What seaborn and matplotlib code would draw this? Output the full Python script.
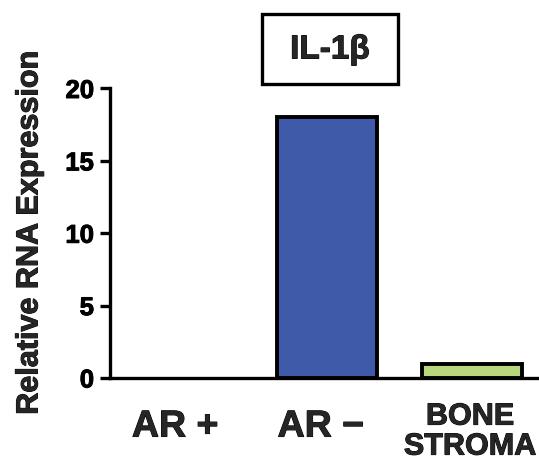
import matplotlib
matplotlib.use("Agg")
import matplotlib.pyplot as plt
import matplotlib.patheffects as pe
from matplotlib.patches import Rectangle
from matplotlib.transforms import ScaledTranslation
import seaborn as sns

# Data
categories = ["AR +", "AR \u2212", "BONE\nSTROMA"]
values = [0.0, 18.0, 1.0]
bar_colors = ["#FFFFFF", "#3F5AA8", "#B8D67C"]
y_ticks = [0, 5, 10, 15, 20]
title = "IL-1\u03b2"
y_label = "Relative RNA Expression"

sns.set_theme(style="ticks")
plt.rcParams["font.family"] = ["Liberation Sans", "DejaVu Sans"]
plt.rcParams["font.weight"] = "bold"

heavy = [pe.withStroke(linewidth=0.7, foreground="black")]

W, H = 539, 461
fig = plt.figure(figsize=(W / 100, H / 100), dpi=100)
ax = fig.add_axes([110 / W, (H - 378) / H, 1 - 110 / W, (378 - 88.5) / H])

sns.barplot(x=categories, y=values, hue=categories, palette=bar_colors,
            legend=False, width=0.69, edgecolor="black", linewidth=2.8,
            saturation=1, ax=ax)

# a zero-height bar leaves no outline
for patch, v in zip(ax.patches, values):
    if v == 0:
        patch.set_linewidth(0)

ax.set_xlim(-0.497, 2.462)
ax.set_ylim(0, 20)
ax.set_yticks(y_ticks)
ax.set_yticklabels([str(t) for t in y_ticks], fontsize=18.5, fontweight="bold")
for lbl in ax.get_yticklabels():
    lbl.set_path_effects(heavy)

for side in ("top", "right"):
    ax.spines[side].set_visible(False)
for side in ("left", "bottom"):
    ax.spines[side].set_linewidth(2.4)
    ax.spines[side].set_color("black")
ax.spines["bottom"].set_zorder(5)

ax.tick_params(axis="y", direction="out", length=7.5, width=2.4, pad=4, colors="black")
ax.tick_params(axis="x", length=0, pad=22)

# per-label size, line spacing and small offsets (points) of the category labels
label_sizes = [27, 27, 22]
label_spacing = [0.92, 0.92, 1.0]
label_shift = [(-5, 0), (-4.5, 0), (-1.5, 5)]
for lbl, fs, ls, (dx, dy) in zip(ax.get_xticklabels(), label_sizes,
                                 label_spacing, label_shift):
    lbl.set_fontsize(fs)
    lbl.set_fontweight("bold")
    lbl.set_linespacing(ls)
    lbl.set_path_effects(heavy)
    lbl.set_transform(lbl.get_transform()
                      + ScaledTranslation(dx / 72, dy / 72, fig.dpi_scale_trans))

ax.set_xlabel("")
ax.set_ylabel(y_label, fontsize=22, fontweight="bold", labelpad=15,
              path_effects=heavy)

# Boxed title above the plot
fig.add_artist(Rectangle((262 / W, 1 - 84 / H), 136 / W, 70 / H,
                         transform=fig.transFigure, facecolor="white",
                         edgecolor="black", linewidth=2.4))
fig.text(330 / W, 1 - 50 / H, title, ha="center", va="center",
         fontsize=24, fontweight="bold", path_effects=heavy)

fig.savefig("out.png", dpi=100)
